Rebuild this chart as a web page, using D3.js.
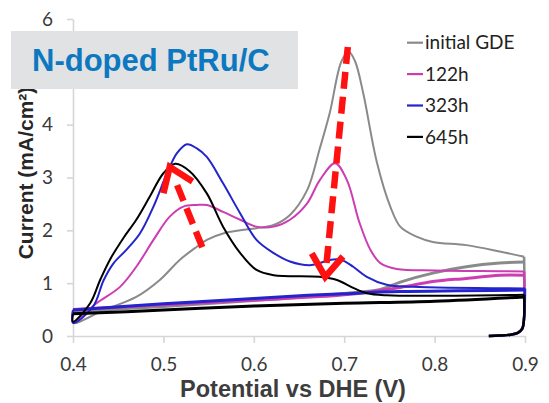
<!DOCTYPE html>
<html>
<head>
<meta charset="utf-8">
<script src="https://cdn.jsdelivr.net/npm/d3@7"></script>
<style>
body { margin: 0; background: #fff; }
</style>
</head>
<body>
<div id="chart"></div>
<script>
let seriesNames = ['initial GDE', '122h', '323h', '645h']
let seriesColors = ['#8a8a8a', '#cc3db2', '#2424cc', '#000000']

// forward sweep with the oxidation peaks, [potential, current]
let initialFwd = [[0.40, 0.25], [0.434, 0.49], [0.47, 0.74], [0.496, 1.06], [0.518, 1.44], [0.537, 1.69],
    [0.548, 1.82], [0.566, 1.94], [0.585, 2.0], [0.603, 2.04], [0.622, 2.1], [0.64, 2.29], [0.659, 2.76],
    [0.673, 3.55], [0.684, 4.22], [0.697, 5.2], [0.705, 5.38], [0.712, 5.2], [0.721, 4.6], [0.736, 3.3],
    [0.751, 2.45], [0.762, 2.07], [0.78, 1.88], [0.798, 1.78], [0.835, 1.72], [0.872, 1.6], [0.899, 1.5]]
let h122Fwd = [[0.40, 0.27], [0.426, 0.62], [0.452, 0.93], [0.47, 1.31], [0.489, 1.82], [0.507, 2.26],
    [0.522, 2.45], [0.537, 2.48], [0.548, 2.48], [0.566, 2.35], [0.585, 2.2], [0.603, 2.07], [0.622, 2.07],
    [0.64, 2.2], [0.659, 2.51], [0.673, 2.95], [0.69, 3.27], [0.703, 2.95], [0.717, 2.14], [0.729, 1.63],
    [0.74, 1.38], [0.758, 1.27], [0.8, 1.24], [0.85, 1.23], [0.899, 1.22]]
let h323Fwd = [[0.40, 0.25], [0.422, 0.55], [0.434, 1.06], [0.445, 1.38], [0.459, 1.63], [0.474, 1.94],
    [0.489, 2.45], [0.504, 3.08], [0.515, 3.46], [0.526, 3.63], [0.537, 3.55], [0.548, 3.39], [0.566, 2.89],
    [0.585, 2.32], [0.603, 1.82], [0.622, 1.57], [0.64, 1.41], [0.662, 1.34], [0.673, 1.38], [0.684, 1.44],
    [0.697, 1.44], [0.71, 1.31], [0.725, 1.12], [0.747, 0.97], [0.776, 0.93], [0.9, 0.9]]
let h645Fwd = [[0.40, 0.27], [0.419, 0.62], [0.43, 1.06], [0.441, 1.45], [0.456, 1.86], [0.47, 2.2],
    [0.485, 2.64], [0.5, 3.08], [0.513, 3.26], [0.529, 3.12], [0.548, 2.7], [0.566, 2.07], [0.585, 1.57],
    [0.603, 1.25], [0.622, 1.15], [0.673, 1.12], [0.692, 1.06], [0.71, 0.91], [0.725, 0.81], [0.747, 0.77],
    [0.8, 0.76], [0.899, 0.78]]

// second (baseline) sweep
let initialBase = [[0.40, 0.46], [0.5, 0.56], [0.6, 0.67], [0.703, 0.81], [0.74, 0.88], [0.762, 1.02],
    [0.798, 1.19], [0.835, 1.31], [0.872, 1.38], [0.899, 1.4]]
let h122Base = [[0.40, 0.5], [0.5, 0.59], [0.6, 0.68], [0.7, 0.78], [0.762, 0.92], [0.798, 1.03],
    [0.835, 1.09], [0.872, 1.15], [0.899, 1.15]]
let h323Base = [[0.40, 0.49], [0.5, 0.61], [0.6, 0.71], [0.66, 0.77], [0.7, 0.8], [0.762, 0.84],
    [0.9, 0.87]]
let h645Base = [[0.40, 0.42], [0.5, 0.49], [0.6, 0.57], [0.7, 0.62], [0.8, 0.66], [0.899, 0.74]]

// current drop at the vertex potential
let vertexDrop = [[0.899, 0.35], [0.897, 0.14], [0.892, 0.06], [0.884, 0.025], [0.872, 0.008], [0.86, 0]]

let forwardSweeps = [initialFwd, h122Fwd, h323Fwd, h645Fwd]
let baseSweeps = [initialBase, h122Base, h323Base, h645Base]

let xTickValues = [0.4, 0.5, 0.6, 0.7, 0.8, 0.9]
// 5 sits behind the title box in the original
let yTickValues = [0, 1, 2, 3, 4, 6]

// red trend arrows, [from, to] in data units
let trendArrows = [
    [[0.543, 1.68], [0.507, 3.2]],
    [[0.704, 5.47], [0.679, 1.12]]
]

let svg = d3.select('#chart')
    .append('svg')
    .attr('width', 549)
    .attr('height', 403)

let xScale = d3.scaleLinear()
    .domain([0.4, 0.9])
    .range([73, 525])

let yScale = d3.scaleLinear()
    .domain([0, 6])
    .range([336, 19])

let xAxis = d3.axisBottom(xScale)
    .tickValues(xTickValues)
    .tickFormat(d3.format('.1f'))
    .tickSize(7)
    .tickSizeOuter(0)
    .tickPadding(15)
let yAxis = d3.axisLeft(yScale)
    .tickValues(yTickValues)
    .tickFormat(d3.format('d'))
    .tickSize(6)
    .tickSizeOuter(0)
    .tickPadding(14)

svg.append('g')
    .attr('class', 'axis')
    .attr('transform', 'translate(0,336)')
    .call(xAxis)
svg.append('g')
    .attr('class', 'axis')
    .attr('transform', 'translate(73,0)')
    .call(yAxis)

svg.selectAll('.axis path, .axis line')
    .attr('stroke', '#d6d6d6')
    .attr('stroke-width', 1.6)
svg.selectAll('.axis text')
    .attr('fill', '#3a3a3a')
    .style('font-family', 'Lato, sans-serif')
    .style('font-size', '19px')

svg.append('text')
    .attr('x', 293)
    .attr('y', 397)
    .attr('text-anchor', 'middle')
    .attr('fill', '#3d3d3d')
    .style('font-family', '"Liberation Sans", Arial, sans-serif')
    .style('font-weight', 'bold')
    .style('font-size', '23.5px')
    .text('Potential vs DHE (V)')

svg.append('text')
    .attr('transform', 'translate(33,173) rotate(-90)')
    .attr('text-anchor', 'middle')
    .attr('fill', '#262626')
    .style('font-family', '"Liberation Sans", Arial, sans-serif')
    .style('font-weight', 'bold')
    .style('font-size', '21px')
    .text('Current (mA/cm²)')

let line = d3.line()
    .x(d => xScale(d[0]))
    .y(d => yScale(d[1]))
    .curve(d3.curveCatmullRom.alpha(0.5))

let plot = svg.append('g')

seriesNames.forEach((name, i) => {
    let base = baseSweeps[i]
    let fwd = forwardSweeps[i]
    plot.append('path')
        .attr('d', line(base))
        .attr('fill', 'none')
        .attr('stroke', seriesColors[i])
        .attr('stroke-width', 3)
    plot.append('path')
        .attr('d', line([base[0]].concat(fwd)))
        .attr('fill', 'none')
        .attr('stroke', seriesColors[i])
        .attr('stroke-width', 2)
    plot.append('path')
        .attr('d', line([fwd[fwd.length - 1]].concat(vertexDrop)))
        .attr('fill', 'none')
        .attr('stroke', seriesColors[i])
        .attr('stroke-width', 2.5)
})

// arrows
trendArrows.forEach(a => {
    let x0 = xScale(a[0][0]), y0 = yScale(a[0][1])
    let x1 = xScale(a[1][0]), y1 = yScale(a[1][1])
    let ang = Math.atan2(y0 - y1, x0 - x1)
    let len = Math.hypot(x1 - x0, y1 - y0)
    let stop = 12
    svg.append('line')
        .attr('x1', x0)
        .attr('y1', y0)
        .attr('x2', x0 + (x1 - x0) * (len - stop) / len)
        .attr('y2', y0 + (y1 - y0) * (len - stop) / len)
        .attr('stroke', '#ff1111')
        .attr('stroke-width', 6.5)
        .attr('stroke-dasharray', '17,8')
    let armLen = 27, spread = 0.62
    let pts = [
        [x1 + armLen * Math.cos(ang - spread), y1 + armLen * Math.sin(ang - spread)],
        [x1, y1],
        [x1 + armLen * Math.cos(ang + spread), y1 + armLen * Math.sin(ang + spread)]
    ]
    svg.append('polyline')
        .attr('points', pts.map(p => p.join(',')).join(' '))
        .attr('fill', 'none')
        .attr('stroke', '#ff1111')
        .attr('stroke-width', 6.5)
        .attr('stroke-linejoin', 'miter')
})

// title box
svg.append('rect')
    .attr('x', 11)
    .attr('y', 31)
    .attr('width', 287)
    .attr('height', 58)
    .attr('fill', '#e1e2e4')
svg.append('text')
    .attr('x', 32)
    .attr('y', 71)
    .attr('fill', '#0b78c0')
    .style('font-family', '"Liberation Sans", Arial, sans-serif')
    .style('font-weight', 'bold')
    .style('font-size', '31px')
    .text('N-doped PtRu/C')

// legend
let legend = svg.selectAll('.legend')
    .data(seriesNames)
    .enter()
    .append('g')
    .attr('class', 'legend')
    .attr('transform', (d, i) => `translate(407,${42.7 + i * 31.4})`)
legend.append('line')
    .attr('x1', 0)
    .attr('x2', 16)
    .attr('stroke', (d, i) => seriesColors[i])
    .attr('stroke-width', 2.2)
legend.append('text')
    .attr('x', 18)
    .attr('dy', '0.35em')
    .attr('fill', '#222')
    .style('font-family', 'Lato, sans-serif')
    .style('font-size', '19px')
    .text(d => d)
</script>
</body>
</html>
